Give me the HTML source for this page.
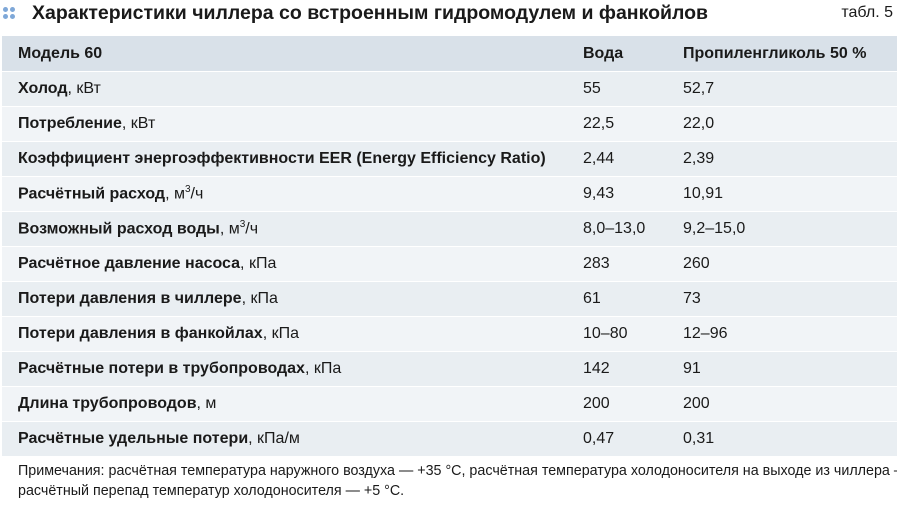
<!DOCTYPE html>
<html><head><meta charset="utf-8"><style>
body{margin:0;width:897px;height:505px;background:#fff;font-family:"Liberation Sans",sans-serif;color:#1a1a1a;position:relative;overflow:hidden}
.title{position:absolute;left:32px;top:2px;font-size:19.5px;font-weight:bold;white-space:nowrap}
.dots{position:absolute;left:3px;top:7px;width:12px;height:12px}
.dots i{position:absolute;width:5px;height:5px;border-radius:50%;background:#7fa8d8}
.tab{position:absolute;right:4px;top:4px;font-size:16px}
table{position:absolute;left:2px;top:36px;width:895px;border-collapse:collapse}
td{height:34px;padding:0;border-bottom:1.8px solid #fff;font-size:16px;white-space:nowrap}
tr:nth-child(odd) td{background:#f1f4f7}
tr:nth-child(even) td{background:#e9eef2}
tr.h td{background:#d9e1e9;font-weight:bold;height:35px}
td.a{padding-left:16px;width:565px}
td.b{width:100px}
.a span{display:inline-block}
b{font-weight:bold}
.note{position:absolute;left:18px;top:461px;font-size:14.3px;line-height:20px;width:900px;white-space:nowrap}
</style></head><body>
<div class="dots"><i style="left:0;top:0"></i><i style="left:7px;top:0"></i><i style="left:0;top:7px"></i><i style="left:7px;top:7px"></i></div>
<div class="title">Характеристики чиллера со встроенным гидромодулем и фанкойлов</div>
<div class="tab">табл. 5</div>
<table>
<tr class="h"><td class="a"><span>Модель 60</span></td><td class="b">Вода</td><td>Пропиленгликоль 50 %</td></tr>
<tr><td class="a"><span><b>Холод</b>, кВт</span></td><td>55</td><td>52,7</td></tr>
<tr><td class="a"><span><b>Потребление</b>, кВт</span></td><td>22,5</td><td>22,0</td></tr>
<tr><td class="a"><span><b>Коэффициент энергоэффективности EER (Energy Efficiency Ratio)</b></span></td><td>2,44</td><td>2,39</td></tr>
<tr><td class="a"><span><b>Расчётный расход</b>, м<sup style="font-size:10px">3</sup>/ч</span></td><td>9,43</td><td>10,91</td></tr>
<tr><td class="a"><span><b>Возможный расход воды</b>, м<sup style="font-size:10px">3</sup>/ч</span></td><td>8,0–13,0</td><td>9,2–15,0</td></tr>
<tr><td class="a"><span><b>Расчётное давление насоса</b>, кПа</span></td><td>283</td><td>260</td></tr>
<tr><td class="a"><span><b>Потери давления в чиллере</b>, кПа</span></td><td>61</td><td>73</td></tr>
<tr><td class="a"><span><b>Потери давления в фанкойлах</b>, кПа</span></td><td>10–80</td><td>12–96</td></tr>
<tr><td class="a"><span><b>Расчётные потери в трубопроводах</b>, кПа</span></td><td>142</td><td>91</td></tr>
<tr><td class="a"><span><b>Длина трубопроводов</b>, м</span></td><td>200</td><td>200</td></tr>
<tr><td class="a"><span><b>Расчётные удельные потери</b>, кПа/м</span></td><td>0,47</td><td>0,31</td></tr>
</table>
<div class="note">Примечания: расчётная температура наружного воздуха — +35 °С, расчётная температура холодоносителя на выходе из чиллера — +7 °С,<br>расчётный перепад температур холодоносителя —  +5 °С.</div>
</body></html>
